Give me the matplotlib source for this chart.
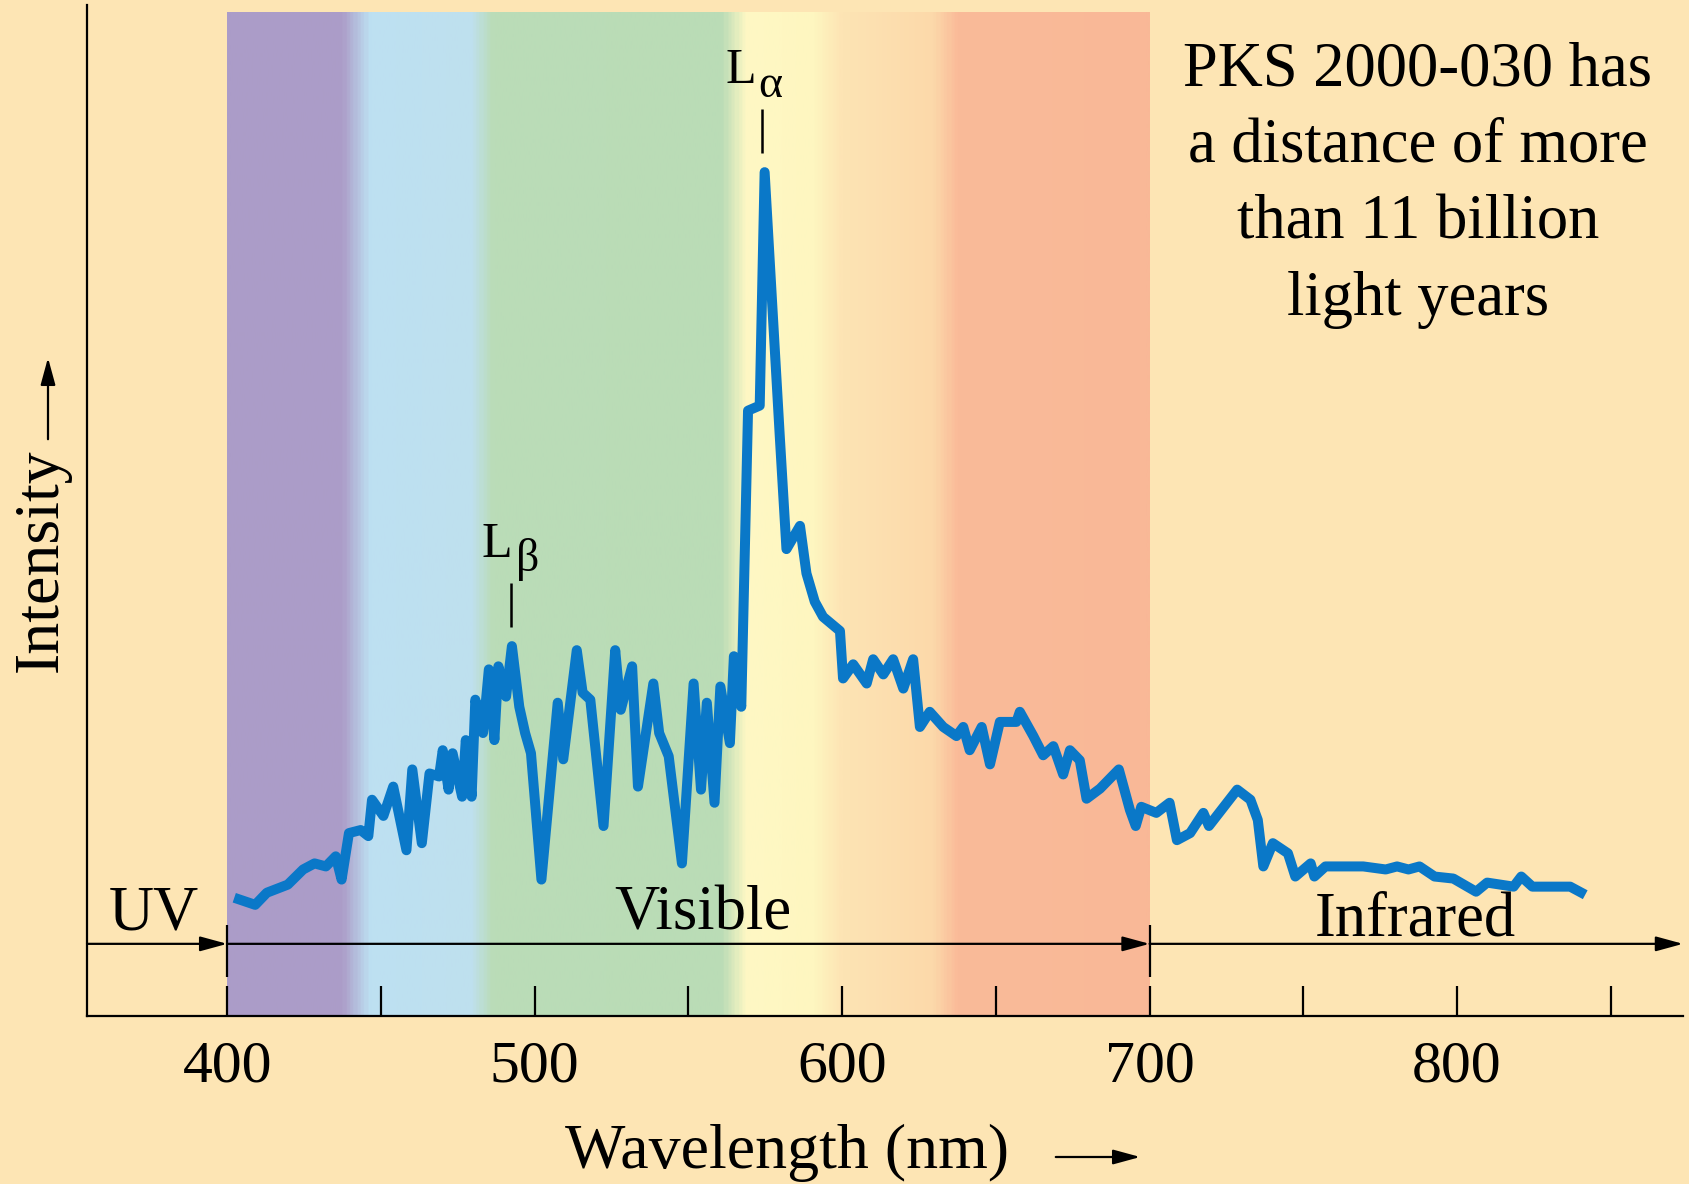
import numpy as np
import matplotlib.pyplot as plt
from matplotlib.colors import LinearSegmentedColormap
from matplotlib.patches import FancyArrowPatch

# spectrum of PKS 2000-030 (intensity in arbitrary units, 0-100)
wavelength_nm = [402.3, 409.1, 412.9, 419.7, 424.7, 428.4, 432.1, 435.3, 437.2, 439.6,
                 443.4, 445.9, 447.1, 450.8, 454.0, 458.3, 460.2, 463.3, 465.8, 468.9,
                 470.1, 472.0, 473.3, 476.4, 477.6, 479.5, 480.7, 483.2, 485.1, 486.9,
                 488.2, 490.7, 492.6, 495.0, 496.9, 498.8, 502.2, 507.5, 509.3, 513.7,
                 515.6, 518.1, 522.4, 526.2, 528.0, 531.7, 533.6, 538.6, 540.5, 543.6,
                 547.9, 551.7, 554.1, 556.0, 558.5, 560.4, 563.5, 564.8, 567.2, 569.4,
                 573.2, 574.8, 579.7, 581.9, 586.3, 588.4, 591.1, 593.8, 599.3, 600.3,
                 603.6, 608.0, 610.1, 613.4, 616.6, 619.9, 623.1, 625.3, 628.5, 632.9,
                 637.2, 639.4, 641.5, 645.4, 648.1, 651.3, 656.7, 657.8, 662.2, 665.4,
                 668.7, 671.9, 674.1, 677.3, 679.5, 683.9, 690.0, 693.6, 695.5, 697.3,
                 702.2, 706.5, 708.9, 713.2, 717.5, 719.3, 728.5, 732.8, 735.2, 737.0,
                 740.1, 745.0, 747.4, 752.4, 753.6, 757.2, 763.4, 769.5, 776.8, 780.5,
                 784.2, 787.8, 792.7, 798.8, 806.2, 809.8, 818.4, 820.9, 824.5, 830.7,
                 836.8, 841.7]
intensity = [11.7, 11.0, 12.2, 13.0, 14.5, 15.1, 14.8, 15.8, 13.5, 18.1,
             18.4, 17.8, 21.4, 19.8, 22.7, 16.4, 24.4, 17.1, 24.0, 23.7,
             26.3, 22.4, 26.0, 21.7, 27.3, 21.7, 31.3, 28.0, 34.3, 27.3,
             34.6, 31.6, 36.6, 30.6, 28.0, 26.0, 13.5, 31.0, 25.4, 36.2,
             32.0, 31.3, 18.8, 36.2, 30.3, 34.6, 22.7, 32.9, 28.0, 25.7,
             15.1, 32.9, 22.4, 31.0, 21.1, 32.6, 27.0, 35.6, 30.6, 59.9,
             60.4, 83.5, 57.5, 46.2, 48.5, 43.8, 41.0, 39.5, 38.1, 33.4,
             34.8, 32.9, 35.3, 33.8, 35.3, 32.4, 35.3, 28.6, 30.1, 28.6,
             27.7, 28.6, 26.3, 28.6, 24.9, 29.1, 29.1, 30.1, 27.7, 25.8,
             26.7, 23.9, 26.3, 25.3, 21.5, 22.5, 24.4, 20.4, 18.8, 20.7,
             20.1, 21.1, 17.4, 18.1, 20.1, 18.8, 22.4, 21.4, 19.4, 14.8,
             17.1, 16.1, 13.8, 15.1, 13.8, 14.8, 14.8, 14.8, 14.5, 14.8,
             14.5, 14.8, 13.8, 13.6, 12.3, 13.2, 12.8, 13.8, 12.8, 12.8,
             12.8, 12.0]

# colour bands of the visible spectrum
band_nm = [400, 437, 446, 479, 486, 561, 569, 591, 600, 630, 638, 700]
band_colors = ['#ab9cc8', '#ac9dc8', '#bde0f2', '#bfe0ee', '#badcb8', '#badcb6',
               '#fef8c4', '#fef6c0', '#fde4b4', '#fcd9aa', '#fabb99', '#f9b897']

major_ticks = [400, 500, 600, 700, 800]
minor_ticks = [450, 550, 650, 750, 850]
region_edges = [400, 700]
region_names = ['UV', 'Visible', 'Infrared']
region_label_nm = [376.2, 554.6, 786.3]
region_label_y = [8.6, 8.6, 8.0]

line_nm = [573.8, 492.2]
line_peak = [83.5, 36.6]
line_sub = ['α', 'β']

note = ['PKS 2000-030 has', 'a distance of more', 'than 11 billion', 'light years']

BG = '#fde5b4'
BLUE = '#0a78c8'
W, H = 1690, 1184

plt.rcParams['font.family'] = ['Liberation Serif', 'DejaVu Serif']

fig = plt.figure(figsize=(W / 100, H / 100), dpi=100, facecolor=BG)
ax = fig.add_axes([87 / W, 168 / H, 1596 / W, 1010.6 / H])
ax.set_facecolor(BG)

pos = [(n - 400) / 300 for n in band_nm]
cmap = LinearSegmentedColormap.from_list('vis', list(zip(pos, band_colors)))
grad = np.linspace(0, 1, 600).reshape(1, -1)
ax.imshow(grad, cmap=cmap, extent=(400, 700, 0, 99.3), aspect='auto',
          interpolation='bilinear', zorder=0)

xmin, xmax = 354.4, 873.5
ax.set_xlim(xmin, xmax)
ax.set_ylim(0, 100)

ax.plot(wavelength_nm, intensity, color=BLUE, lw=7.2, solid_joinstyle='round',
        solid_capstyle='butt', zorder=3)

for s in ['top', 'right']:
    ax.spines[s].set_visible(False)
for s in ['left', 'bottom']:
    ax.spines[s].set_linewidth(1.6)

ax.set_yticks([])
ax.set_xticks(major_ticks)
ax.set_xticks(minor_ticks, minor=True)
ax.tick_params(which='both', direction='in', length=21.6, width=1.6)
ax.tick_params(axis='x', labelsize=43, pad=18)

# region arrows
arr_y = 7.14
ends = [xmin] + region_edges + [xmax]
for a, b in zip(ends[:-1], ends[1:]):
    ax.annotate('', xy=(b, arr_y), xytext=(a, arr_y),
                arrowprops=dict(arrowstyle='-|>,head_length=0.55,head_width=0.15',
                                mutation_scale=30, lw=1.6, color='black',
                                shrinkA=0, shrinkB=0))
ax.vlines(region_edges, 3.9, 9.0, color='black', lw=1.6)
for name, x, y in zip(region_names, region_label_nm, region_label_y):
    ax.text(x, y, name, ha='center', va='baseline', fontsize=45)

# Lyman lines
l_offset = [-6.9, -4.6]
sub_offset = [2.9, 5.6]
for x, pk, sub, lo, so in zip(line_nm, line_peak, line_sub, l_offset, sub_offset):
    ax.vlines(x, pk + 1.9, pk + 6.2, color='black', lw=1.8)
    ax.text(x + lo, pk + 8.8, 'L', ha='center', va='baseline', fontsize=36)
    ax.text(x + so, pk + 7.4, sub, ha='center', va='baseline', fontsize=33)

# axis labels
arrow_kw = dict(arrowstyle='-|>,head_length=0.55,head_width=0.15', mutation_scale=30,
                lw=1.6, color='black', transform=fig.transFigure)
fig.text(565 / W, 1 - 1168 / H, 'Wavelength (nm)', ha='left', va='baseline', fontsize=46)
fig.patches.append(FancyArrowPatch((1053 / W, 1 - 1157 / H), (1143 / W, 1 - 1157 / H),
                                   **arrow_kw))
fig.text(57 / W, 1 - 560 / H, 'Intensity', rotation=90, rotation_mode='anchor',
         ha='center', va='baseline', fontsize=46)
fig.patches.append(FancyArrowPatch((48 / W, 1 - 442 / H), (48 / W, 1 - 355 / H),
                                   **arrow_kw))

for i, line in enumerate(note):
    fig.text(1418 / W, 1 - (85 + 76.7 * i) / H, line, ha='center', va='baseline',
             fontsize=45)

fig.savefig('out.png', dpi=100, facecolor=BG)
